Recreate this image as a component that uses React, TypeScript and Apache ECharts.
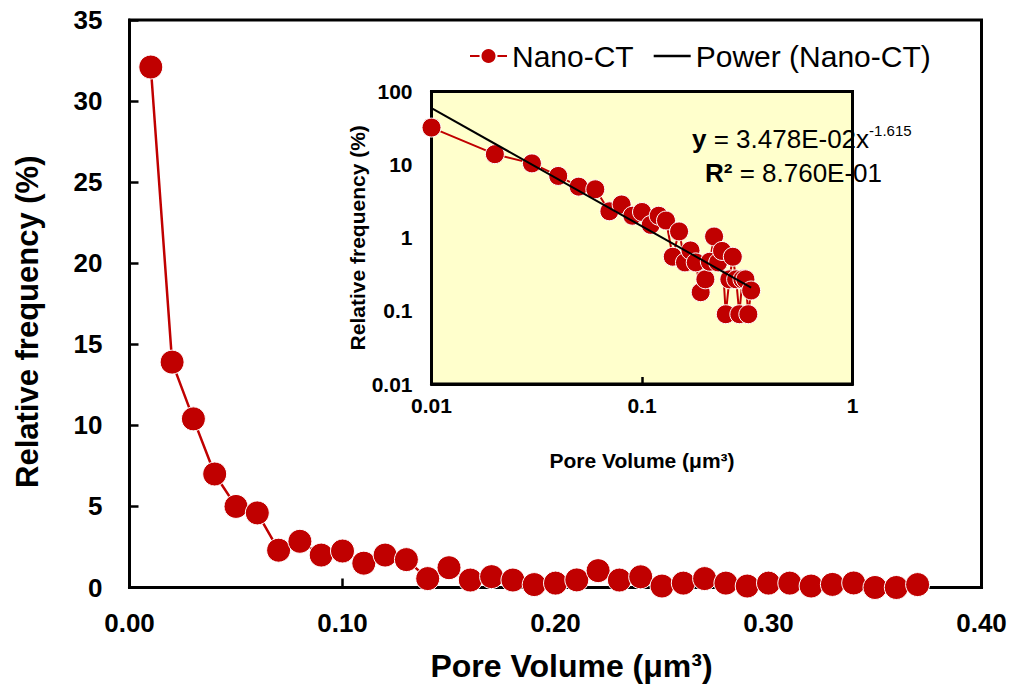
import React, { useEffect, useRef } from "react";
import * as echarts from "echarts";

const poreVolume = [
  0.01, 0.02, 0.03, 0.04, 0.05, 0.06, 0.07, 0.08, 0.09, 0.1,
  0.11, 0.12, 0.13, 0.14, 0.15, 0.16, 0.17, 0.18, 0.19, 0.2,
  0.21, 0.22, 0.23, 0.24, 0.25, 0.26, 0.27, 0.28, 0.29, 0.3,
  0.31, 0.32, 0.33, 0.34, 0.35, 0.36, 0.37,
];
const relFreq = [
  32.1, 13.9, 10.4, 7.0, 5.0, 4.6, 2.3, 2.85, 2.0, 2.25,
  1.5, 2.0, 1.72, 0.55, 1.22, 0.46, 0.67, 0.46, 0.18, 0.27,
  0.47, 1.04, 0.46, 0.66, 0.09, 0.27, 0.55, 0.27, 0.09, 0.27,
  0.27, 0.09, 0.19, 0.28, 0.0, 0.0, 0.18,
];
const insetMaxX = 0.33;
const powerCoef = 3.478e-2;
const powerExp = -1.615;
const powerCoefText = "3.478E-02";
const rSquared = "8.760E-01";
const mainXTicks = { min: 0, max: 0.4, interval: 0.1 };
const mainYTicks = { min: 0, max: 35, interval: 5 };
const insetXRange = { min: 0.01, max: 1 };
const insetYRange = { min: 0.01, max: 100 };

const RED = "#C00000";
const FONT = '"Liberation Sans", Arial, sans-serif';

export default function App() {
  const ref = useRef<HTMLDivElement>(null);
  useEffect(() => {
    if (!ref.current) return;
    const chart = echarts.init(ref.current, null, { renderer: "svg" });
    const mainData = poreVolume.map((x, i) => [x, relFreq[i]]);
    const insetData = poreVolume
      .map((x, i) => [x, relFreq[i]])
      .filter((p) => p[0] <= insetMaxX + 1e-9 && p[1] > 0);
    const xs = insetData.map((p) => p[0]);
    const x0 = Math.min(...xs);
    const x1 = Math.max(...xs);
    const trend = [
      [x0, powerCoef * Math.pow(x0, powerExp)],
      [x1, powerCoef * Math.pow(x1, powerExp)],
    ];
    const fmtLog = (v: number) => String(parseFloat(v.toPrecision(3)));

    chart.setOption({
      animation: false,
      textStyle: { fontFamily: FONT },
      legend: {
        left: 464,
        top: 36,
        itemWidth: 37,
        itemHeight: 20,
        itemGap: 20,
        textStyle: { fontSize: 30, color: "#000", fontFamily: FONT },
        data: [
          { name: "Nano-CT" },
          { name: "Power (Nano-CT)", icon: "path://M0,0 L40,0 L40,2.5 L0,2.5 Z" },
        ],
      },
      grid: [
        {
          left: 129.5,
          top: 20,
          right: 31.5,
          bottom: 105.5,
          show: true,
          borderColor: "#000",
          borderWidth: 3,
          backgroundColor: "transparent",
        },
        {
          left: 431.5,
          top: 91.5,
          width: 421,
          height: 292.5,
          show: true,
          borderColor: "#000",
          borderWidth: 3,
          backgroundColor: "#FFFFCC",
        },
      ],
      xAxis: [
        {
          type: "value",
          gridIndex: 0,
          min: mainXTicks.min,
          max: mainXTicks.max,
          interval: mainXTicks.interval,
          name: "Pore Volume (\u03bcm\u00b3)",
          nameLocation: "middle",
          nameGap: 62,
          nameTextStyle: {
            fontSize: 32,
            fontWeight: "bold",
            color: "#000",
            fontFamily: FONT,
            padding: [0, 0, 0, 32],
          },
          axisLine: { lineStyle: { color: "#000", width: 3 } },
          axisTick: { inside: true, length: 9, lineStyle: { color: "#000", width: 2.5 } },
          axisLabel: {
            fontSize: 26,
            fontWeight: "bold",
            color: "#000",
            margin: 22,
            fontFamily: FONT,
            formatter: (v: number) => v.toFixed(2),
          },
          splitLine: { show: false },
        },
        {
          type: "log",
          logBase: 10,
          gridIndex: 1,
          min: insetXRange.min,
          max: insetXRange.max,
          name: "Pore Volume (\u03bcm\u00b3)",
          nameLocation: "middle",
          nameGap: 66,
          nameTextStyle: { fontSize: 21, fontWeight: "bold", color: "#000", fontFamily: FONT },
          axisLine: { lineStyle: { color: "#000", width: 3 } },
          axisTick: { inside: true, length: 7, lineStyle: { color: "#000", width: 2.5 } },
          minorTick: { show: false },
          axisLabel: {
            fontSize: 21,
            fontWeight: "bold",
            color: "#000",
            margin: 11,
            fontFamily: FONT,
            formatter: fmtLog,
          },
          splitLine: { show: false },
        },
      ],
      yAxis: [
        {
          type: "value",
          gridIndex: 0,
          min: mainYTicks.min,
          max: mainYTicks.max,
          interval: mainYTicks.interval,
          name: "Relative frequency (%)",
          nameLocation: "middle",
          nameGap: 87,
          nameTextStyle: {
            fontSize: 31,
            fontWeight: "bold",
            color: "#000",
            fontFamily: FONT,
            padding: [0, 36, 0, 0],
          },
          axisLine: { lineStyle: { color: "#000", width: 3 } },
          axisTick: { inside: true, length: 9, lineStyle: { color: "#000", width: 2.5 } },
          axisLabel: {
            fontSize: 26,
            fontWeight: "bold",
            color: "#000",
            margin: 27,
            fontFamily: FONT,
          },
          splitLine: { show: false },
        },
        {
          type: "log",
          logBase: 10,
          gridIndex: 1,
          min: insetYRange.min,
          max: insetYRange.max,
          name: "Relative frequency (%)",
          nameLocation: "middle",
          nameGap: 63,
          nameTextStyle: { fontSize: 21, fontWeight: "bold", color: "#000", fontFamily: FONT },
          axisLine: { lineStyle: { color: "#000", width: 3 } },
          axisTick: { show: false },
          minorTick: { show: false },
          axisLabel: {
            fontSize: 21,
            fontWeight: "bold",
            color: "#000",
            margin: 19,
            fontFamily: FONT,
            formatter: fmtLog,
          },
          splitLine: { show: false },
        },
      ],
      series: [
        {
          name: "Nano-CT",
          type: "line",
          xAxisIndex: 0,
          yAxisIndex: 0,
          data: mainData,
          symbol: "circle",
          symbolSize: 24,
          itemStyle: { color: RED, borderColor: "#fff", borderWidth: 1 },
          lineStyle: { color: RED, width: 2.5 },
        },
        {
          name: "Nano-CT",
          type: "line",
          xAxisIndex: 1,
          yAxisIndex: 1,
          data: insetData,
          symbol: "circle",
          symbolSize: 19,
          itemStyle: { color: RED, borderColor: "#fff", borderWidth: 1 },
          lineStyle: { color: RED, width: 2 },
        },
        {
          name: "Power (Nano-CT)",
          type: "line",
          xAxisIndex: 1,
          yAxisIndex: 1,
          data: trend,
          symbol: "none",
          itemStyle: { color: "#000" },
          lineStyle: { color: "#000", width: 2 },
          z: 5,
        },
      ],
      graphic: [
        {
          type: "text",
          left: 692,
          top: 123,
          z: 10,
          style: {
            text: `{b|y}{n| = ${powerCoefText}x}{s|${powerExp}}`,
            rich: {
              b: { fontSize: 26, fontWeight: "bold", fontFamily: FONT, fill: "#000", lineHeight: 32 },
              n: { fontSize: 26, fontFamily: FONT, fill: "#000", lineHeight: 32 },
              s: { fontSize: 15, fontFamily: FONT, fill: "#000", lineHeight: 21, verticalAlign: "top" },
            },
          },
        },
        {
          type: "text",
          left: 705,
          top: 160,
          z: 10,
          style: {
            text: `{b|R\u00b2}{n| = ${rSquared}}`,
            rich: {
              b: { fontSize: 26, fontWeight: "bold", fontFamily: FONT, fill: "#000", lineHeight: 32 },
              n: { fontSize: 26, fontFamily: FONT, fill: "#000", lineHeight: 32 },
            },
          },
        },
      ],
    });
    return () => chart.dispose();
  }, []);
  return (
    <div
      ref={ref}
      style={{ position: "absolute", left: 0, top: 0, width: 1013, height: 693, background: "#fff" }}
    />
  );
}
